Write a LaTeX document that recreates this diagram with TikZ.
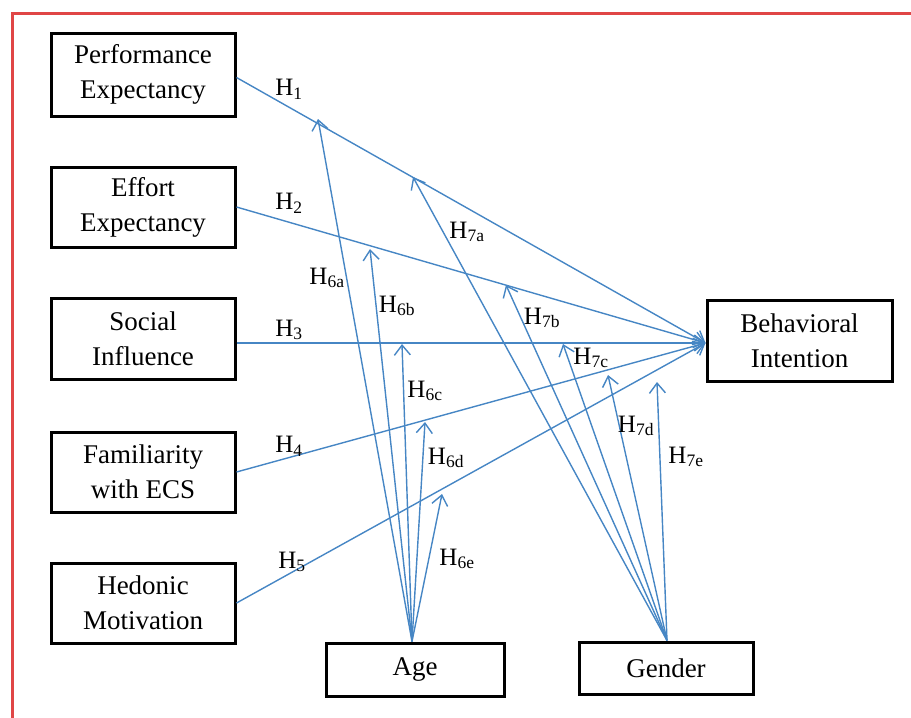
\documentclass[tikz,border=0pt]{standalone}
\usepackage{fontspec}
\setmainfont{Liberation Serif}
\usetikzlibrary{arrows.meta,calc}
\definecolor{linkblue}{RGB}{70,134,196}
\definecolor{framered}{RGB}{224,70,70}
\tikzset{
  varbox/.style={draw=black, line width=3pt, fill=white, align=center,
    font=\fontsize{27}{35}\selectfont, inner sep=0pt},
  link/.style={draw=linkblue, line width=1.4pt,
    -{Straight Barb[length=10pt,width=16pt,line width=1.4pt]}},
  hlabel/.style={font=\fontsize{25}{28}\selectfont, inner sep=0pt}
}
\begin{document}
\begin{tikzpicture}[x=1pt,y=-1pt]
\useasboundingbox (0,0) rectangle (911,718);
\draw[framered, line width=3pt] (12,730) -- (12,13) -- (925,13);

% variable boxes
\node[varbox, minimum width=184pt, minimum height=83pt] (pe) at (143,74.5) {Performance\\Expectancy};
\node[varbox, minimum width=184pt, minimum height=80pt] (ee) at (143,207) {Effort\\Expectancy};
\node[varbox, minimum width=184pt, minimum height=81pt] (si) at (143,338.5) {Social\\Influence};
\node[varbox, minimum width=184pt, minimum height=80pt] (fe) at (143,472) {Familiarity\\with ECS};
\node[varbox, minimum width=184pt, minimum height=80pt] (hm) at (143,603) {Hedonic\\Motivation};
\node[varbox, minimum width=185pt, minimum height=81pt] (bi) at (799.5,340.5) {Behavioral\\Intention};
\node[varbox, minimum width=178pt, minimum height=53pt] (age) at (415,669.5) {Age};
\node[varbox, minimum width=174pt, minimum height=52pt] (gen) at (666,668) {Gender};

\coordinate (conv) at ([yshift=-2.5pt]bi.west);
\coordinate (agesrc) at ([xshift=-3pt]age.north);
\coordinate (gensrc) at ([xshift=1pt]gen.north);

% main paths
\draw[link] ([yshift=-3pt]pe.east) -- (conv);
\draw[link] (ee.east) -- (conv);
\draw[link] ([yshift=-4.5pt]si.east) -- (conv);
\draw[link] (fe.east) -- (conv);
\draw[link] (hm.east) -- (conv);

% moderator tips
\coordinate (t6a) at (318,119);
\coordinate (t6b) at (370,249);
\coordinate (t6c) at (402,344);
\coordinate (t6d) at (425,422);
\coordinate (t6e) at (442,494);
\coordinate (t7a) at (413,177);
\coordinate (t7b) at (506,285);
\coordinate (t7c) at (563,344);
\coordinate (t7d) at (608,375);
\coordinate (t7e) at (657,382);

\foreach \t in {t6a,t6b,t6c,t6d,t6e}{\draw[link] (agesrc) -- (\t);}
\foreach \t in {t7a,t7b,t7c,t7d,t7e}{\draw[link] (gensrc) -- (\t);}

% labels
\node[hlabel] (h1) at (289,89) {H\textsubscript{1}};
\node[hlabel] (h2) at (289,203) {H\textsubscript{2}};
\node[hlabel] (h3) at (289,330) {H\textsubscript{3}};
\node[hlabel] (h4) at (289,446) {H\textsubscript{4}};
\node[hlabel] (h5) at (292,562) {H\textsubscript{5}};
\node[hlabel] (h6a) at (327,278) {H\textsubscript{6a}};
\node[hlabel] (h6b) at (397,306) {H\textsubscript{6b}};
\node[hlabel] (h6c) at (425,391) {H\textsubscript{6c}};
\node[hlabel] (h6d) at (446,458) {H\textsubscript{6d}};
\node[hlabel] (h6e) at (457,559) {H\textsubscript{6e}};
\node[hlabel] (h7a) at (467,232) {H\textsubscript{7a}};
\node[hlabel] (h7b) at (542,318) {H\textsubscript{7b}};
\node[hlabel] (h7c) at (591,358) {H\textsubscript{7c}};
\node[hlabel] (h7d) at (636,426) {H\textsubscript{7d}};
\node[hlabel] (h7e) at (686,457) {H\textsubscript{7e}};
\end{tikzpicture}
\end{document}
